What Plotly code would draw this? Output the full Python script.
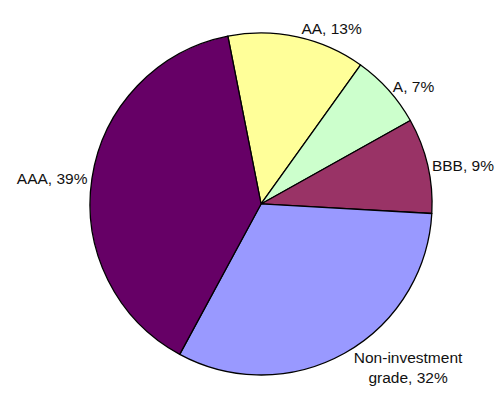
import plotly.graph_objects as go

# Credit-rating breakdown of the portfolio (percent of total)
ratings = ["AA", "A", "BBB", "Non-investment<br>grade", "AAA"]
shares = [13, 7, 9, 32, 39]
colors = ["#FFFF99", "#CCFFCC", "#993366", "#9999FF", "#660066"]

fig = go.Figure(
    go.Pie(
        labels=ratings,
        values=shares,
        sort=False,
        direction="clockwise",
        rotation=-11.2,
        marker=dict(colors=colors, line=dict(color="black", width=1.3)),
        texttemplate="%{label}, %{value}%",
        textposition="outside",
        textfont=dict(family="Liberation Sans, Arial, sans-serif", size=15.5, color="#111111"),
        hoverinfo="label+percent",
        domain=dict(x=[0.179, 0.859], y=[0.085, 0.92]),
        showlegend=False,
    )
)

fig.update_layout(
    width=503,
    height=410,
    margin=dict(l=0, r=0, t=0, b=0),
    paper_bgcolor="white",
    plot_bgcolor="white",
)

fig.write_html("out.html")
